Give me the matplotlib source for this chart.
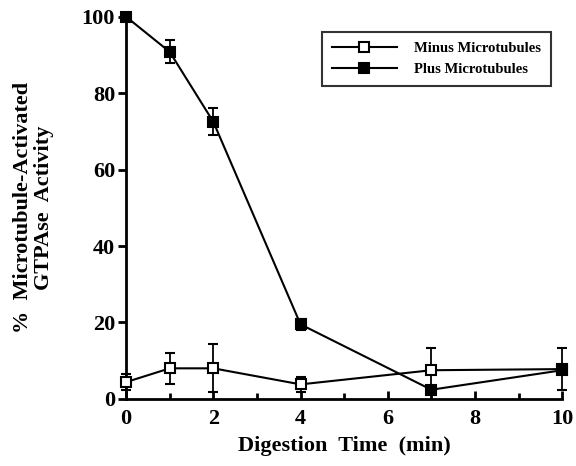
import matplotlib
matplotlib.use("Agg")
import matplotlib.pyplot as plt
from matplotlib.lines import Line2D

time = [0, 1, 2, 4, 7, 10]
minus_mt = [4.4, 8.0, 8.0, 3.8, 7.5, 7.8]
minus_err = [2.0, 4.0, 6.3, 2.0, 5.7, 5.5]
plus_mt = [100, 90.8, 72.5, 19.5, 2.4, 7.5]
plus_err = [1.0, 3.0, 3.5, 1.5, 1.0, 1.0]
xticks = [0, 2, 4, 6, 8, 10]
yticks = [0, 20, 40, 60, 80, 100]

plt.rcParams['font.family'] = ['Liberation Serif', 'DejaVu Serif']
plt.rcParams['font.weight'] = 'bold'

fig = plt.figure(figsize=(5.76, 4.66), dpi=100)
ax = fig.add_axes([0.219, 0.144, 0.757, 0.820])

ax.errorbar(time, minus_mt, yerr=minus_err, color='black', lw=1.5,
            marker='s', ms=7.5, mfc='white', mec='black', mew=1.5,
            capsize=3.5, elinewidth=1.3, capthick=1.3, clip_on=False, zorder=3)
ax.errorbar(time, plus_mt, yerr=plus_err, color='black', lw=1.5,
            marker='s', ms=7.5, mfc='black', mec='black', mew=1.5,
            capsize=3.5, elinewidth=1.3, capthick=1.3, clip_on=False, zorder=4)

ax.set_xlim(0, 10)
ax.set_ylim(0, 100)
ax.set_xticks(xticks)
ax.set_xticks(range(0, 11), minor=True)
ax.set_yticks(yticks)
ax.spines['top'].set_visible(False)
ax.spines['right'].set_visible(False)
ax.spines['left'].set_linewidth(2)
ax.spines['bottom'].set_linewidth(2)
ax.tick_params(axis='x', which='both', direction='in', width=2, labelsize=16, pad=7)
ax.tick_params(axis='x', which='major', length=6)
ax.tick_params(axis='x', which='minor', length=4)
ax.tick_params(axis='y', direction='out', width=2, length=6, labelsize=16, pad=2)
for lbl in ax.get_xticklabels() + ax.get_yticklabels():
    lbl.set_fontweight('bold')

ax.set_xlabel('Digestion  Time  (min)', fontsize=16, fontweight='bold', labelpad=5)
ax.set_ylabel('%  Microtubule-Activated\nGTPAse  Activity', fontsize=16,
              fontweight='bold', labelpad=20, linespacing=1.05)

handles = [
    Line2D([], [], color='black', lw=1.5, marker='s', ms=7, mfc='white', mec='black', mew=1.5),
    Line2D([], [], color='black', lw=1.5, marker='s', ms=7, mfc='black', mec='black', mew=1.5),
]
leg = ax.legend(handles, ['Minus Microtubules', 'Plus Microtubules'],
                loc='upper right', bbox_to_anchor=(0.975, 0.96), frameon=True,
                fancybox=False, edgecolor='black', fontsize=10.5,
                handlelength=4.4, handletextpad=1.2, borderpad=0.7,
                labelspacing=0.5, borderaxespad=0)
leg.get_frame().set_linewidth(1.5)
for t in leg.get_texts():
    t.set_fontweight('bold')

fig.savefig('out.png', dpi=100)
